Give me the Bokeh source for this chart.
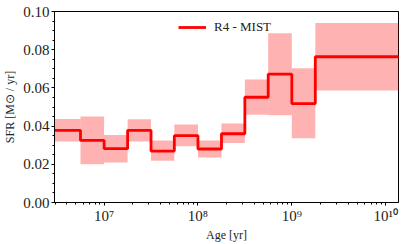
from bokeh.plotting import figure
from bokeh.models import FixedTicker, NumeralTickFormatter, CustomJSTickFormatter, Range1d
from bokeh.embed import file_html
from bokeh.resources import INLINE

# bin edges in years (log-spaced age bins)
edges = [2.9e6, 5.6e6, 1.0e7, 1.78e7, 3.16e7, 5.6e7, 1.0e8, 1.78e8,
         3.16e8, 5.6e8, 1.0e9, 1.78e9, 1.4e10]
sfr = [0.0378, 0.0325, 0.0282, 0.0378, 0.0269, 0.0350, 0.0280, 0.0360,
       0.0551, 0.0672, 0.0518, 0.0763]
sfr_hi = [0.0437, 0.0450, 0.0353, 0.0436, 0.0325, 0.0408, 0.0324, 0.0413,
          0.0644, 0.0886, 0.0703, 0.0940]
sfr_lo = [0.0319, 0.0200, 0.0210, 0.0319, 0.0219, 0.0294, 0.0235, 0.0311,
          0.0460, 0.0457, 0.0336, 0.0586]
x_major = [1e7, 1e8, 1e9, 1e10]
y_major = [0.0, 0.02, 0.04, 0.06, 0.08, 0.10]
label = "R4 - MIST"

FONT = "Liberation Serif"

p = figure(width=408, height=244, x_axis_type="log",
           x_range=Range1d(2.96e6, 1.37e10), y_range=Range1d(0.0, 0.10),
           output_backend="svg", toolbar_location=None,
           min_border_left=53, min_border_right=10, min_border_top=11, min_border_bottom=42)

p.quad(left=edges[:-1], right=edges[1:], bottom=sfr_lo, top=sfr_hi,
       fill_color="red", fill_alpha=0.3, line_color=None)
p.step(x=edges, y=sfr + [sfr[-1]], mode="after", line_color="red",
       line_width=2.8, legend_label=label)

p.xgrid.visible = False
p.ygrid.visible = False
p.outline_line_color = "black"
p.outline_line_width = 1
p.background_fill_color = "white"
p.border_fill_color = "white"

minors = []
for d in [1e6, 1e7, 1e8, 1e9, 1e10]:
    for k in range(2, 10):
        minors.append(k * d)
p.xaxis.ticker = FixedTicker(ticks=x_major, minor_ticks=minors)
p.xaxis.formatter = CustomJSTickFormatter(code="""
const sup = {'0':'\u2070','1':'\u00b9','2':'\u00b2','3':'\u00b3','4':'\u2074',
             '5':'\u2075','6':'\u2076','7':'\u2077','8':'\u2078','9':'\u2079','-':'\u207b'};
const e = Math.round(Math.log10(tick)).toString();
return '10' + e.split('').map(c => sup[c]).join('');
""")
p.yaxis.ticker = FixedTicker(ticks=y_major,
                             minor_ticks=[i * 0.005 for i in range(21)])
p.yaxis.formatter = NumeralTickFormatter(format="0.00")

for ax in [p.xaxis[0], p.yaxis[0]]:
    ax.major_label_text_font = FONT
    ax.major_label_text_font_size = "15px"
    ax.major_label_text_color = "#222222"
    ax.axis_label_text_font = FONT
    ax.axis_label_text_font_size = "12px"
    ax.axis_label_text_font_style = "normal"
    ax.axis_label_text_color = "#222222"
    ax.major_tick_out = 3
    ax.major_tick_in = 0
    ax.minor_tick_out = 2
    ax.minor_tick_in = 0
    ax.axis_line_color = "black"
    ax.major_tick_line_color = "black"
    ax.minor_tick_line_color = "black"
    ax.major_label_standoff = 2
    ax.axis_label_standoff = 3
p.xaxis.axis_label_standoff = 1

p.xaxis.axis_label = "Age [yr]"
p.yaxis.axis_label = "SFR [M\u2299 / yr]"

lg = p.legend[0]
lg.location = (124, 165)
lg.padding = 0
lg.margin = 0
lg.border_line_alpha = 0
lg.background_fill_alpha = 0
lg.glyph_width = 28
lg.glyph_height = 20
lg.label_height = 20
lg.label_standoff = 8
lg.label_text_font = FONT
lg.label_text_font_size = "13px"
lg.label_text_color = "#222222"

open("out.html", "w").write(file_html(p, INLINE))
